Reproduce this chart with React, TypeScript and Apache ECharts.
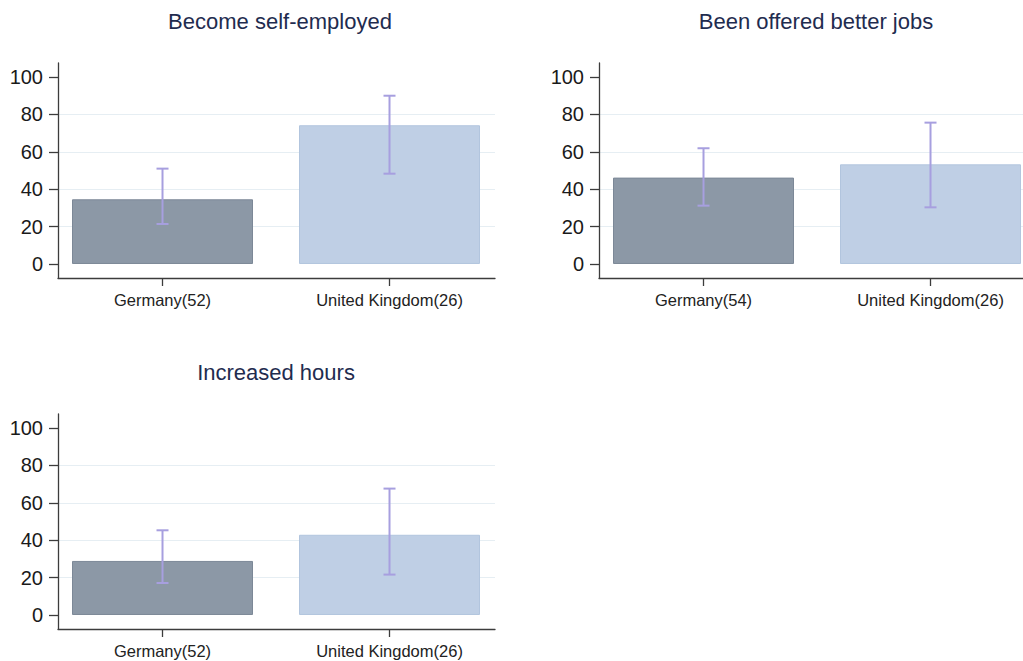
import React, { useEffect, useRef } from "react";
import * as echarts from "echarts";

const titles = ["Become self-employed", "Been offered better jobs", "Increased hours"];

const categories1 = ["Germany(52)", "United Kingdom(26)"];
const categories2 = ["Germany(54)", "United Kingdom(26)"];
const categories3 = ["Germany(52)", "United Kingdom(26)"];

const means1 = [34.6, 74.2];
const lows1 = [21.4, 48.3];
const highs1 = [51.0, 90.0];

const means2 = [46.2, 53.3];
const lows2 = [31.2, 30.3];
const highs2 = [61.9, 75.6];

const means3 = [28.9, 42.9];
const lows3 = [17.1, 21.6];
const highs3 = [45.3, 67.6];

const yTicks = [0, 20, 40, 60, 80, 100];
const xPositions = [1, 2];

const FONT = "'Liberation Sans', Arial, Helvetica, sans-serif";
const BAR_FILL = ["#8c98a6", "#bfcfe5"];
const BAR_BORDER = ["#7c8897", "#b2c5de"];
const ERR_COLOR = "#a79fdf";
const AXIS_COLOR = "#3c3c3c";
const GRID_COLOR = "#e6eef3";

const PX_PER_UNIT = 227;
const X_MIN = 0.5396;

const panels = [
  { cats: categories1, means: means1, lows: lows1, highs: highs1, grid: { left: 58, top: 63, width: 437 }, title: { x: 280, y: 10 } },
  { cats: categories2, means: means2, lows: lows2, highs: highs2, grid: { left: 599, top: 63, width: 424 }, title: { x: 816, y: 10 } },
  { cats: categories3, means: means3, lows: lows3, highs: highs3, grid: { left: 58, top: 414, width: 437 }, title: { x: 276, y: 361 } },
];

export default function App() {
  const ref = useRef<HTMLDivElement>(null);
  useEffect(() => {
    if (!ref.current) return;
    const chart = echarts.init(ref.current, undefined, { renderer: "svg" });
    const option: any = {
      animation: false,
      backgroundColor: "#ffffff",
      title: panels.map((p, i) => ({
        text: titles[i],
        left: p.title.x,
        top: p.title.y,
        textAlign: "center",
        padding: 0,
        textStyle: { fontSize: 22, fontWeight: "normal", color: "#1f2c4f", fontFamily: FONT },
      })),
      grid: panels.map((p) => ({ left: p.grid.left, top: p.grid.top, width: p.grid.width, height: 215, containLabel: false })),
      xAxis: panels.map((p, i) => ({
        type: "value",
        gridIndex: i,
        min: X_MIN,
        max: X_MIN + p.grid.width / PX_PER_UNIT,
        axisLine: { show: true, onZero: false, lineStyle: { color: AXIS_COLOR, width: 1.3 } },
        axisTick: { show: true, customValues: xPositions, length: 8, lineStyle: { color: AXIS_COLOR, width: 1.3 } },
        axisLabel: {
          show: true,
          customValues: xPositions,
          margin: 13,
          fontSize: 16.5,
          color: "#222222",
          fontFamily: FONT,
          formatter: (v: number) => p.cats[Math.round(v) - 1] ?? "",
        },
        splitLine: { show: false },
      })),
      yAxis: panels.map((p, i) => ({
        type: "value",
        gridIndex: i,
        min: -7.5,
        max: 107.5,
        splitNumber: 5,
        axisLine: { show: true, lineStyle: { color: AXIS_COLOR, width: 1.3 } },
        axisTick: { show: true, customValues: yTicks, length: 9, lineStyle: { color: AXIS_COLOR, width: 1.3 } },
        axisLabel: { show: true, customValues: yTicks, margin: 15, fontSize: 20, color: "#1a1a1a", fontFamily: FONT },
        splitLine: { show: true, showMinLine: false, showMaxLine: false, lineStyle: { color: GRID_COLOR, width: 1.2 } },
      })),
      series: panels.flatMap((p, i) => [
        {
          type: "bar",
          xAxisIndex: i,
          yAxisIndex: i,
          barWidth: 181,
          data: p.means.map((m, j) => ({
            value: [xPositions[j], m],
            itemStyle: { color: BAR_FILL[j], borderColor: BAR_BORDER[j], borderWidth: 1 },
          })),
          z: 2,
        },
        {
          type: "custom",
          xAxisIndex: i,
          yAxisIndex: i,
          z: 5,
          encode: { x: 0, y: [1, 2] },
          data: p.lows.map((lo, j) => [xPositions[j], lo, p.highs[j]]),
          renderItem: (params: any, api: any) => {
            const x = api.value(0);
            const lo = api.value(1);
            const hi = api.value(2);
            const pLo = api.coord([x, lo]);
            const pHi = api.coord([x, hi]);
            const hw = 6;
            const style = { stroke: ERR_COLOR, lineWidth: 2, fill: "none" };
            return {
              type: "group",
              children: [
                { type: "line", shape: { x1: pLo[0], y1: pLo[1], x2: pHi[0], y2: pHi[1] }, style },
                { type: "line", shape: { x1: pHi[0] - hw, y1: pHi[1], x2: pHi[0] + hw, y2: pHi[1] }, style },
                { type: "line", shape: { x1: pLo[0] - hw, y1: pLo[1], x2: pLo[0] + hw, y2: pLo[1] }, style },
              ],
            };
          },
        },
      ]),
    };
    chart.setOption(option);
    return () => chart.dispose();
  }, []);
  return (
    <div
      ref={ref}
      style={{ position: "absolute", left: 0, top: 0, width: 1023, height: 661, background: "#ffffff" }}
    />
  );
}
